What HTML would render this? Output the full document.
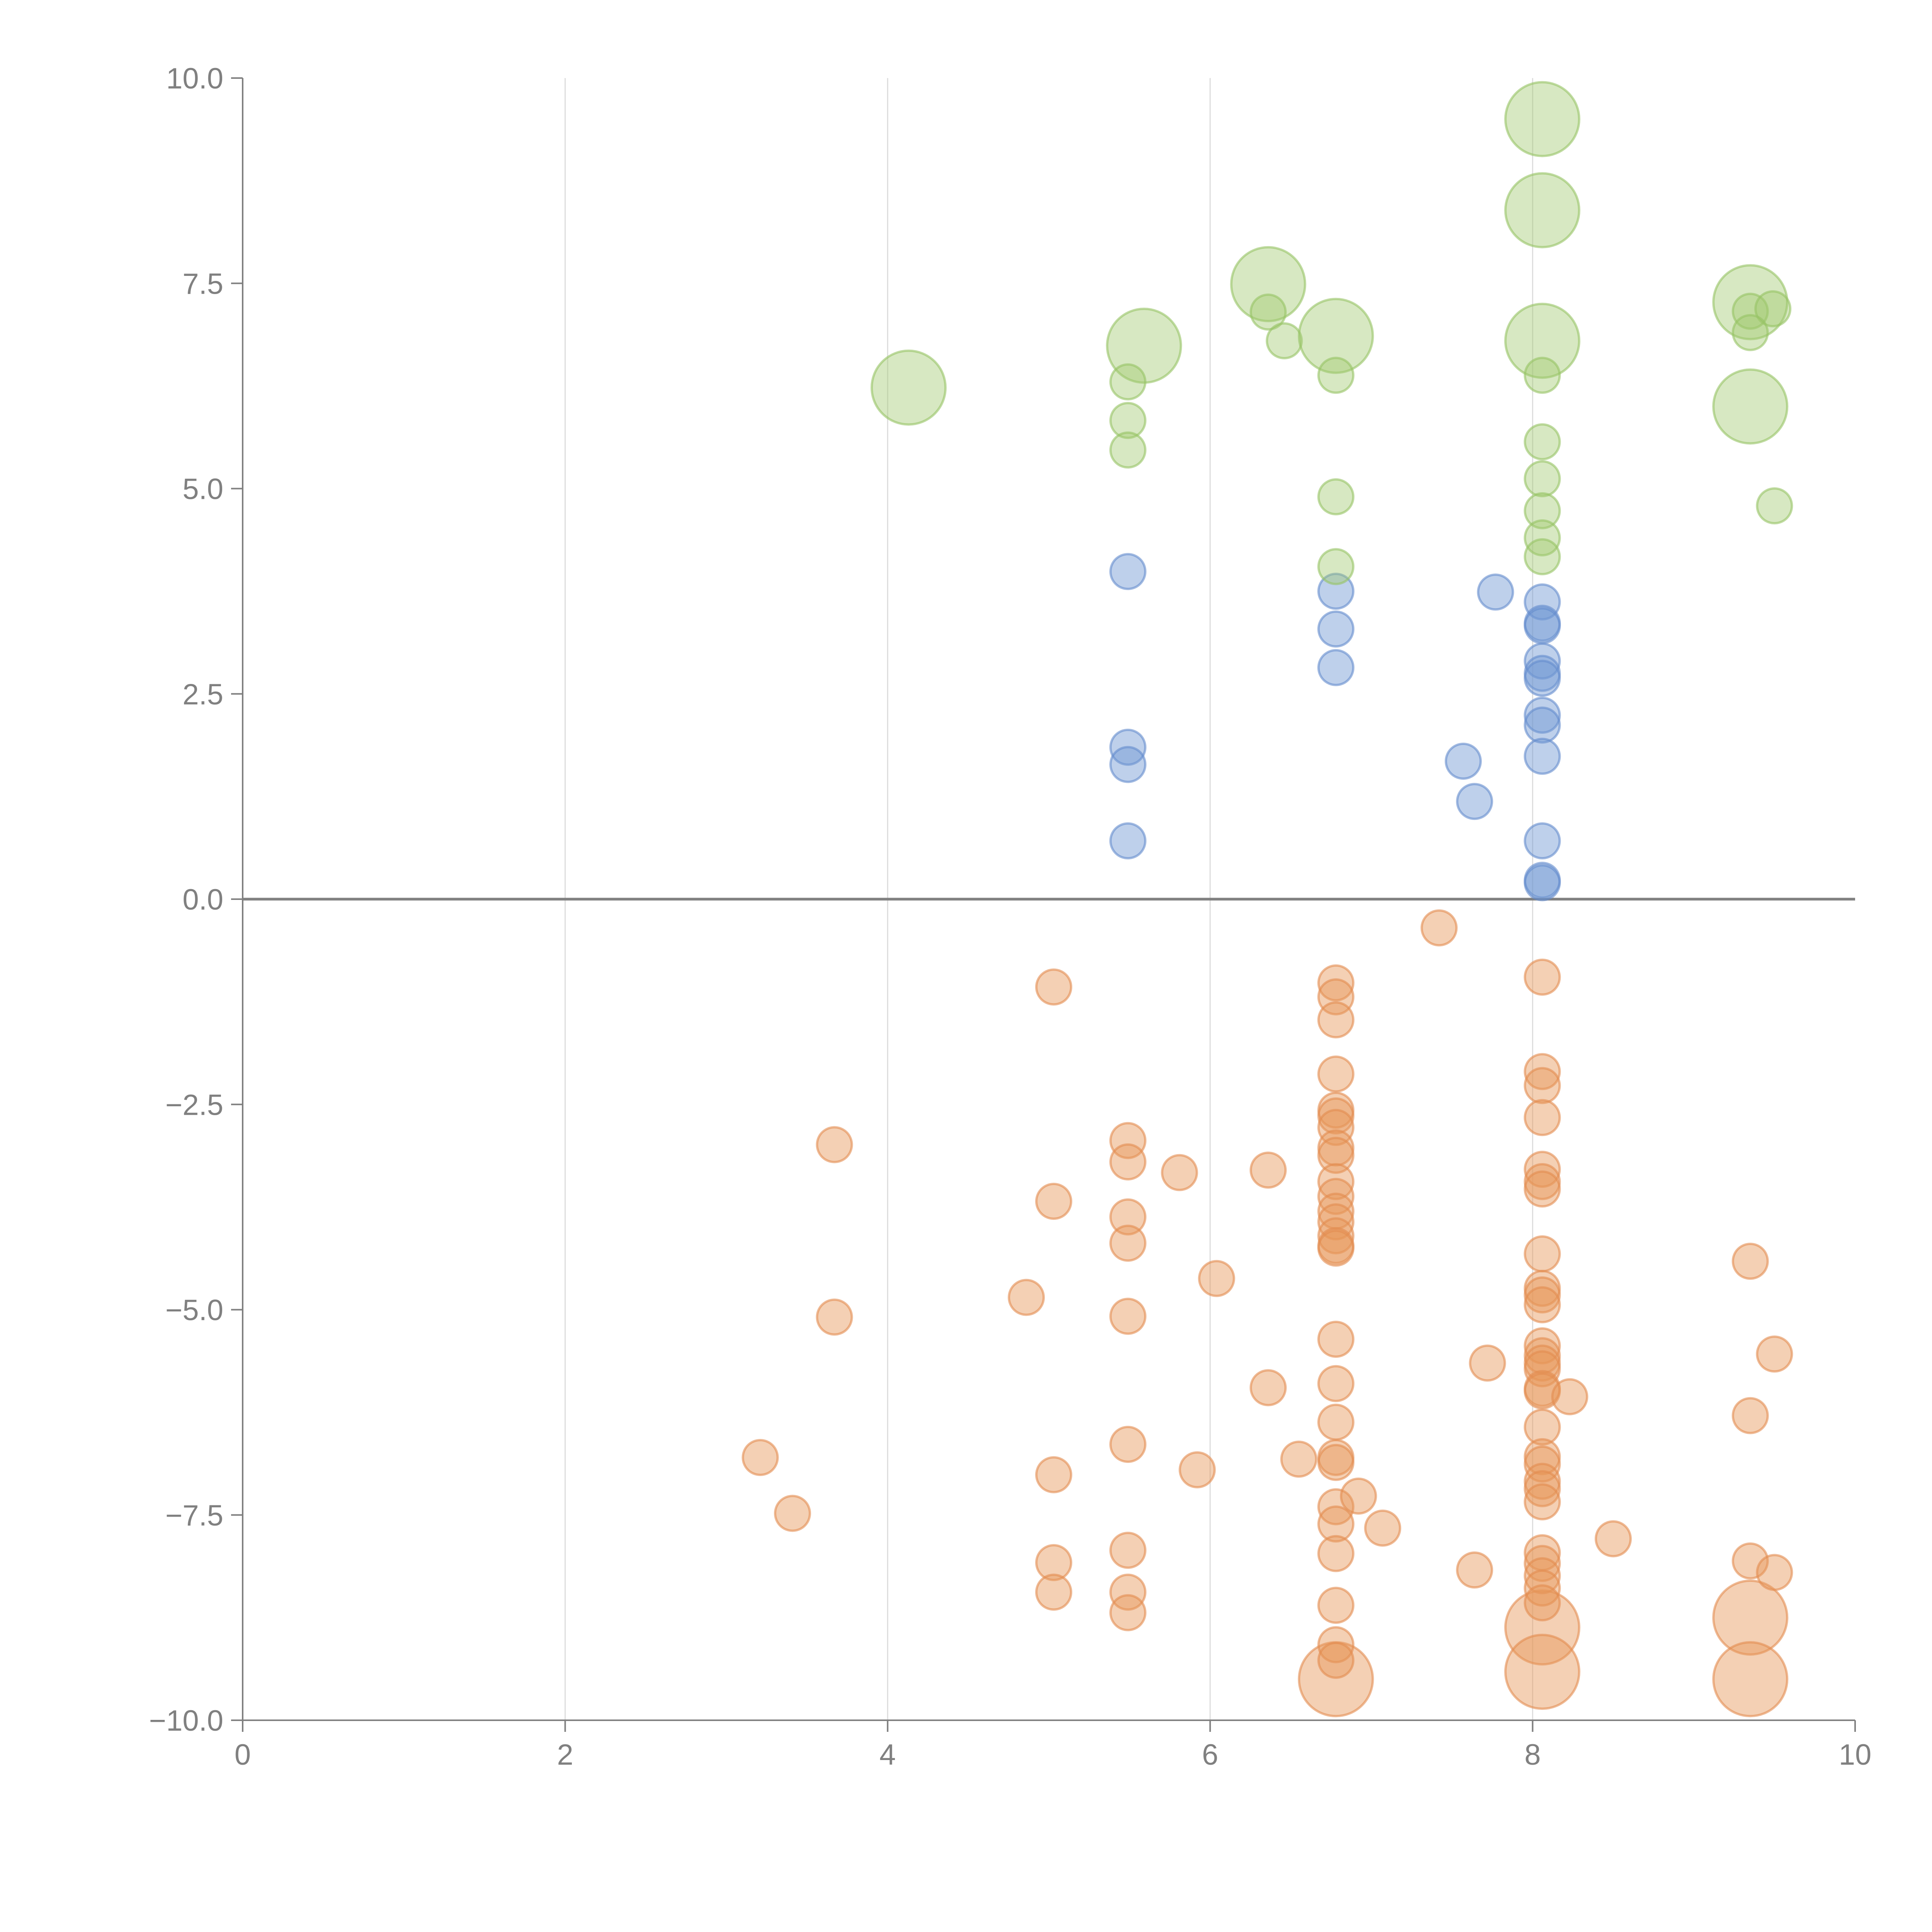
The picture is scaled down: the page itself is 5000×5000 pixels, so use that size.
<!DOCTYPE html>
<html><head><meta charset="utf-8"><style>
html,body{margin:0;padding:0;background:#fff;}
svg{display:block;font-family:"Liberation Sans",sans-serif;}
</style></head><body>
<svg id="chart" width="5000" height="5000" viewBox="0 0 5000 5000" xmlns="http://www.w3.org/2000/svg">
<g id="grid"></g>
<g id="axes"></g>
<g id="marks"></g>
</svg>
<script>
const xTicks=[0,2,4,6,8,10];
const xTickLabels=["0","2","4","6","8","10"];
const yTicks=[-10,-7.5,-5,-2.5,0,2.5,5,7.5,10];
const yTickLabels=["\u221210.0","\u22127.5","\u22125.0","\u22122.5","0.0","2.5","5.0","7.5","10.0"];

const greenX=[4.13,5.59,5.49,5.49,5.49,6.36,6.36,6.46,6.78,6.78,6.78,6.78,8.06,8.06,8.06,8.06,8.06,8.06,8.06,8.06,8.06,9.35,9.35,9.49,9.35,9.35,9.5];
const greenY=[6.23,6.74,6.3,5.83,5.47,7.49,7.15,6.8,6.86,6.38,4.9,4.05,9.5,8.39,6.8,6.38,5.57,5.12,4.73,4.4,4.17,7.27,7.16,7.19,6.9,6.0,4.79];
const greenS=[4.5,4.5,1,1,1,4.5,1,1,4.5,1,1,1,4.5,4.5,4.5,1,1,1,1,1,1,4.5,1,1,1,4.5,1];

const blueX=[5.49,5.49,5.49,5.49,6.78,6.78,6.78,7.77,7.57,7.64,8.06,8.06,8.06,8.06,8.06,8.06,8.06,8.06,8.06,8.06,8.06,8.06];
const blueY=[3.99,1.85,1.64,0.71,3.75,3.29,2.82,3.74,1.68,1.19,3.62,3.36,3.33,2.9,2.75,2.69,2.24,2.12,1.74,0.71,0.23,0.2];
const blueS=blueX.map(()=>1);

const orangeX=[6.78,8.06,8.06,9.35,9.35,
5.03,3.67,3.67,3.21,3.41,5.03,4.86,5.03,5.03,5.03,
5.49,5.49,5.49,5.49,5.49,5.49,5.49,5.49,5.49,
5.81,6.04,5.92,6.36,6.36,6.55,
6.78,6.78,6.78,6.78,6.78,6.78,6.78,6.78,6.78,6.78,6.78,6.78,6.78,6.78,6.78,6.78,6.78,6.78,6.78,6.78,6.78,6.78,6.78,6.78,6.78,6.78,6.78,
6.92,7.07,7.42,7.72,7.64,
8.06,8.06,8.06,8.06,8.06,8.06,8.06,8.06,8.06,8.06,8.06,8.06,8.06,8.06,8.06,8.06,8.06,8.06,8.06,8.06,8.06,8.06,8.06,8.06,8.06,8.06,8.06,8.06,
8.23,8.5,9.35,9.5,9.35,9.35,9.5];
const orangeY=[-9.5,-8.87,-9.41,-8.75,-9.5,
-1.07,-2.99,-5.09,-6.8,-7.48,-3.68,-4.85,-7.01,-8.08,-8.44,
-2.94,-3.2,-3.87,-4.19,-5.08,-6.64,-7.93,-8.44,-8.69,
-3.33,-4.62,-6.95,-3.3,-5.95,-6.82,
-1.02,-1.19,-1.47,-2.13,-2.57,-2.64,-2.78,-3.03,-3.12,-3.44,-3.62,-3.8,-3.93,-4.1,-4.22,-4.25,-5.36,-5.9,-6.37,-6.8,-6.86,-7.4,-7.61,-7.97,-8.6,-9.08,-9.27,
-7.27,-7.66,-0.35,-5.65,-8.17,
-0.95,-2.1,-2.27,-2.66,-3.29,-3.44,-3.53,-4.32,-4.74,-4.82,-4.94,-5.44,-5.56,-5.65,-5.72,-5.96,-5.99,-6.43,-6.79,-6.88,-7.09,-7.18,-7.34,-7.96,-8.09,-8.24,-8.39,-8.57,
-6.06,-7.79,-4.41,-5.54,-6.29,-8.06,-8.2];
const orangeS=orangeX.map((_,i)=>i<5?4.5:1);

const NS="http://www.w3.org/2000/svg";
const X0=628,X1=4801,YT=202,YB=4452;
function xs(v){return X0+(v-0)/(10-0)*(X1-X0);}
function ys(v){return YB-(v+10)/20*(YB-YT);}
function rs(s){return 45*Math.sqrt(s);}
function mk(tag,attrs,parent){const e=document.createElementNS(NS,tag);for(const k in attrs)e.setAttribute(k,attrs[k]);parent.appendChild(e);return e;}
const grid=document.getElementById('grid'),axes=document.getElementById('axes'),marks=document.getElementById('marks');

xTicks.forEach((t,i)=>{
  if(t>0&&t<10){const g=mk('line',{x1:xs(t),x2:xs(t),y1:YT,y2:YB,stroke:'#dcdcdc','stroke-width':3},grid);
  
  }
  const tk=mk('line',{x1:xs(t),x2:xs(t),y1:YB,y2:YB+30,stroke:'#808080','stroke-width':4},axes);
  
  
  const tx=mk('text',{x:xs(t),y:YB+115,'text-anchor':'middle','font-size':76,fill:'#808080'},axes);
  
  
  tx.textContent=xTickLabels[i];
});
yTicks.forEach((t,i)=>{
  const tk=mk('line',{x1:X0-30,x2:X0,y1:ys(t),y2:ys(t),stroke:'#808080','stroke-width':4},axes);
  
  
  const tx=mk('text',{x:X0-50,y:ys(t)+27,'text-anchor':'end','font-size':76,fill:'#808080'},axes);
  
  
  tx.textContent=yTickLabels[i];
});
const ya=mk('line',{x1:X0,x2:X0,y1:YT,y2:YB,stroke:'#808080','stroke-width':4},axes);


const xa=mk('line',{x1:X0,x2:X1,y1:YB,y2:YB,stroke:'#808080','stroke-width':4},axes);


const zl=mk('line',{x1:X0,x2:X1,y1:ys(0),y2:ys(0),stroke:'#808080','stroke-width':7},axes);



function series(X,Y,S,fill,stroke,name){
  X.forEach((x,i)=>{
    const c=mk('circle',{cx:xs(x),cy:ys(Y[i]),r:rs(S[i]),fill:fill,stroke:stroke,'stroke-width':6},marks);
    
    
  });
}
series(orangeX,orangeY,orangeS,'rgba(231,150,88,0.45)','rgba(226,140,80,0.6)','orange-bubble');
series(blueX,blueY,blueS,'rgba(110,150,210,0.45)','rgba(100,140,205,0.6)','blue-bubble');
series(greenX,greenY,greenS,'rgba(160,200,110,0.42)','rgba(150,195,100,0.6)','green-bubble');
</script>
</body></html>
